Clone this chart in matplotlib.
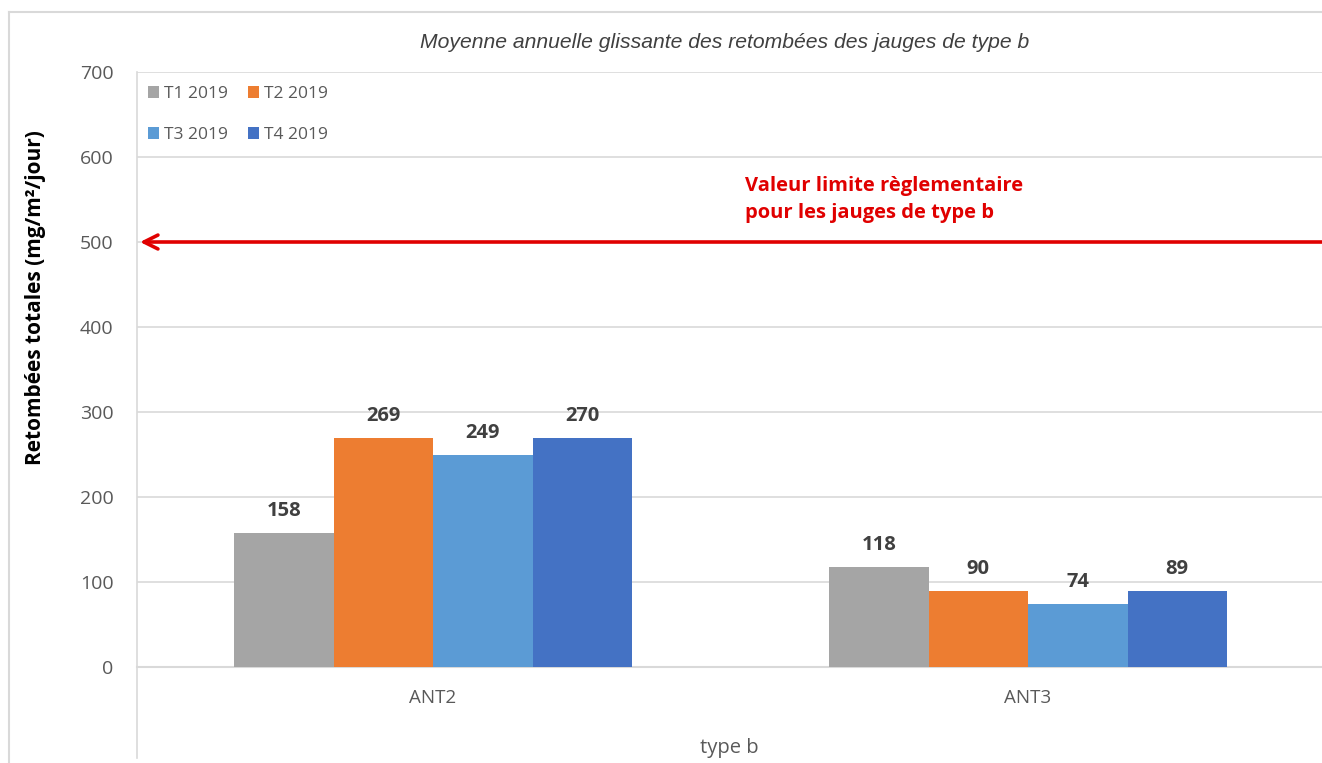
import numpy as np
import matplotlib.pyplot as plt
from matplotlib.lines import Line2D

# data
categories = ["ANT2", "ANT3"]
series_names = ["T1 2019", "T2 2019", "T3 2019", "T4 2019"]
series_colors = ["#A5A5A5", "#ED7D31", "#5B9BD5", "#4472C4"]
values = [
    [158, 118],
    [269, 90],
    [249, 74],
    [270, 89],
]
limit_value = 500
y_ticks = [0, 100, 200, 300, 400, 500, 600, 700]

FONT = "Open Sans"
W, H = 1322, 763
fig = plt.figure(figsize=(W / 100, H / 100), dpi=100)

# axes placed in pixel terms
ax_left, ax_right, ax_top, ax_bot = 137, 1322, 72, 667
ax = fig.add_axes([ax_left / W, (H - ax_bot) / H, (ax_right - ax_left) / W, (ax_bot - ax_top) / H])

x = np.arange(len(categories))
bar_w = 0.1672
handles = []
for i, (name, vals, col) in enumerate(zip(series_names, values, series_colors)):
    pos = x + (i - 1.5) * bar_w
    bars = ax.bar(pos, vals, width=bar_w, color=col, label=name, zorder=3)
    handles.append(bars)
    for b, v in zip(bars, vals):
        ax.text(b.get_x() + b.get_width() / 2, v + 14, str(v), ha="center", va="bottom",
                fontsize=14.5, fontweight="bold", color="#404040", family=FONT)

ax.set_xlim(-0.4975, 1.494)
ax.set_ylim(0, 700)
ax.set_yticks(y_ticks)
ax.set_yticklabels([str(t) for t in y_ticks], fontsize=14, color="#595959", family=FONT)
ax.tick_params(axis="y", length=0, pad=17)
ax.set_xticks(x)
ax.set_xticklabels(categories, fontsize=13.5, color="#595959", family=FONT)
ax.tick_params(axis="x", length=0, pad=16)
ax.grid(axis="y", color="#D9D9D9", linewidth=1.2, zorder=0)
for s in ["top", "right"]:
    ax.spines[s].set_visible(False)
ax.spines["left"].set_color("#D9D9D9")
ax.spines["bottom"].set_color("#D9D9D9")
ax.spines["left"].set_linewidth(1.2)
ax.spines["bottom"].set_linewidth(1.5)

# limit arrow
ax.annotate("", xy=(-0.4975 + 3 / 595, limit_value), xytext=(1.494, limit_value),
            arrowprops=dict(arrowstyle="->,head_length=1.0,head_width=0.5", color="#E00000",
                            lw=2.6, shrinkA=0, shrinkB=0), zorder=4)
ax.text(0.524, 550, "Valeur limite règlementaire\npour les jauges de type b", ha="left", va="center",
        fontsize=14.5, fontweight="bold", color="#E00000", family=FONT, linespacing=1.45)

# legend filled row by row: T1 T2 / T3 T4
order = [0, 2, 1, 3]
leg = ax.legend([handles[k] for k in order], [series_names[k] for k in order],
                loc="upper left", ncol=2, frameon=False, handlelength=0.63,
                handleheight=0.63, handletextpad=0.3, columnspacing=1.15, labelspacing=1.45,
                bbox_to_anchor=(11 / 1185, 1 - 14 / 595), borderaxespad=0, borderpad=0,
                prop={"family": FONT, "size": 12.5})
for t in leg.get_texts():
    t.set_color("#595959")

# titles / labels
fig.text(725 / W, 1 - 43 / H, "Moyenne annuelle glissante des retombées des jauges de type b",
         ha="center", va="center", fontsize=15.2, style="italic", color="#404040", family="Liberation Sans")
fig.text(36 / W, 1 - 298 / H, "Retombées totales (mg/m²/jour)", rotation=90, ha="center", va="center",
         fontsize=15, fontweight="bold", color="black", family=FONT)
fig.text(729 / W, 1 - 748 / H, "type b", ha="center", va="center", fontsize=14.5,
         color="#595959", family=FONT)

# axis extension below the plot and chart border
fig.add_artist(Line2D([ax_left / W, ax_left / W], [1 - ax_bot / H, 1 - 758 / H], color="#D9D9D9", lw=1.2))
fig.add_artist(Line2D([9 / W, 9 / W], [0, 1 - 12 / H], color="#D9D9D9", lw=1.5))
fig.add_artist(Line2D([9 / W, 1], [1 - 12 / H, 1 - 12 / H], color="#D9D9D9", lw=1.5))

fig.savefig("out.png", dpi=100)
